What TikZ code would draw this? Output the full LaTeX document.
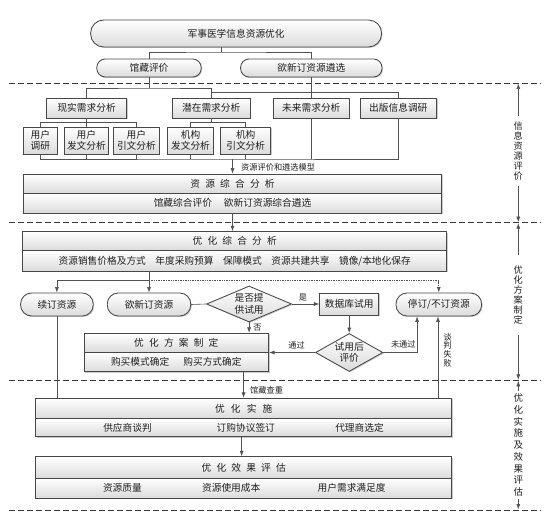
\documentclass[tikz,border=0pt]{standalone}
\usepackage{fontspec}
\setmainfont{Noto Sans CJK SC}
\usetikzlibrary{shapes.geometric,shadows,arrows.meta}
\newcommand\myfont{\fontsize{9.7}{11.5}\selectfont}
\newcommand\mysmall{\fontsize{8.2}{9}\selectfont}
\newcommand\myvert{\fontsize{9.2}{9.9}\selectfont}
\newcommand\myvertb{\fontsize{9.5}{11.7}\selectfont}
\newcommand\mytall{\fontsize{8.3}{8.6}\selectfont}
\newcommand\mygap{\hspace{5.2pt}}
\begin{document}
\begin{tikzpicture}[x=1pt,y=-1pt,
  base/.style={draw=black!72, line width=0.85pt, inner sep=0pt, top color=white,
    bottom color=black!14, text=black!88, font=\myfont, align=center,
    drop shadow={shadow xshift=1pt, shadow yshift=-1pt, opacity=0.4}},
  sqbox/.style={base},
  pill/.style={base, rounded corners=11pt},
  dia/.style={base, shape=diamond},
  conn/.style={draw=black!68, line width=0.6pt},
  arr/.style={conn, -{Latex[length=5.5pt,width=4pt]}},
  dbl/.style={conn, {Latex[length=5.5pt,width=4pt]}-{Latex[length=5.5pt,width=4pt]}},
  divide/.style={draw=black!78, line width=0.9pt, dash pattern=on 5.5pt off 3.5pt},
  lbl/.style={font=\mysmall, text=black!88, inner sep=0pt},
  itemtxt/.style={font=\myfont, text=black!88, inner sep=0pt},
  vl/.style={align=center, inner xsep=1pt, fill=white, text=black!88}
]
\fill[white] (0,0) rectangle (551,518);
\useasboundingbox (0,0) rectangle (551,518);

% separators
\coordinate (dl1) at (9,83);    \coordinate (dr1) at (541,83);
\coordinate (dl2) at (9,222.7); \coordinate (dr2) at (541,222.7);
\coordinate (dl3) at (9,380.3); \coordinate (dr3) at (541,380.3);
\coordinate (dl4) at (9,510);   \coordinate (dr4) at (541,510);
\draw[divide] (dl1) -- (dr1);
\draw[divide] (dl2) -- (dr2);
\draw[divide] (dl3) -- (dr3);
\draw[divide] (dl4) -- (dr4);

% nodes
\node[pill, rounded corners=13pt, minimum width=290.9pt, minimum height=27pt] (title) at (236.1,33.5) {军事医学信息资源优化};
\node[pill, rounded corners=8.5pt, minimum width=104.4pt, minimum height=18pt] (gc) at (149,68) {馆藏评价};
\node[pill, rounded corners=8.5pt, minimum width=141.4pt, minimum height=18pt] (xd) at (311.3,68) {欲新订资源遴选};

\node[sqbox, minimum width=80pt, minimum height=20pt] (xs) at (86.6,108) {现实需求分析};
\node[sqbox, minimum width=77.8pt, minimum height=20pt] (qz) at (211.2,108) {潜在需求分析};
\node[sqbox, minimum width=75.9pt, minimum height=20pt] (wl) at (311.3,108) {未来需求分析};
\node[sqbox, minimum width=76.7pt, minimum height=20pt] (cb) at (398.3,108) {出版信息调研};

\node[sqbox, minimum width=34.2pt, minimum height=27pt] (u1) at (40.3,140.5) {用户\\调研};
\node[sqbox, minimum width=44pt, minimum height=27pt] (u2) at (86.4,140.5) {用户\\发文分析};
\node[sqbox, minimum width=46pt, minimum height=27pt] (u3) at (136.4,140.5) {用户\\引文分析};
\node[sqbox, minimum width=45.6pt, minimum height=27pt] (j1) at (190.5,140.5) {机构\\发文分析};
\node[sqbox, minimum width=50pt, minimum height=27pt] (j2) at (245.7,140.5) {机构\\引文分析};

\node[sqbox, minimum width=418.3pt, minimum height=19.3pt] (zh1) at (232.5,183.7) {资\mygap 源\mygap 综\mygap 合\mygap 分\mygap 析};
\node[sqbox, minimum width=418.3pt, minimum height=20pt] (zh2) at (232.5,203.3) {馆藏综合评价\hspace{12pt}欲新订资源综合遴选};

\node[sqbox, minimum width=424pt, minimum height=19pt] (yz1) at (234.7,241.2) {优\mygap 化\mygap 综\mygap 合\mygap 分\mygap 析};
\node[sqbox, minimum width=424pt, minimum height=20.3pt] (yz2) at (234.7,260.85) {资源销售价格及方式\hspace{9.5pt}年度采购预算\hspace{9.5pt}保障模式\hspace{9.5pt}资源共建共享\hspace{9.5pt}镜像/本地化保存};

\node[pill, minimum width=72.6pt, minimum height=23pt] (xu) at (56.9,304.5) {续订资源};
\node[pill, minimum width=83.5pt, minimum height=23pt] (xdz) at (149,304.5) {欲新订资源};
\node[dia, aspect=2.36, minimum width=85pt, minimum height=36pt, font=\fontsize{9.7}{12}\selectfont] (sf) at (249.1,304) {是否提\\供试用};
\node[sqbox, minimum width=58.8pt, minimum height=22pt] (db) at (349.2,304) {数据库试用};
\node[pill, minimum width=85.6pt, minimum height=23pt] (stop) at (438.8,304.5) {停订/不订资源};

\node[sqbox, minimum width=184.6pt, minimum height=19pt] (fang1) at (176.3,342.8) {优\mygap 化\mygap 方\mygap 案\mygap 制\mygap 定};
\node[sqbox, minimum width=184.6pt, minimum height=19.4pt] (fang2) at (176.3,362) {购买模式确定\hspace{14.2pt}购买方式确定};
\node[dia, aspect=1.77, minimum width=67.4pt, minimum height=38pt, font=\fontsize{9.7}{11.6}\selectfont] (ev) at (349.2,352.5) {试用后\\评价};

\node[sqbox, minimum width=416pt, minimum height=20pt] (ss1) at (243.7,408.3) {优\hspace{6.2pt}化\hspace{6.2pt}实\hspace{6.2pt}施};
\node[sqbox, minimum width=416pt, minimum height=18.4pt] (ss2) at (243.7,427.5) {};
\node[itemtxt] (s21) at (127.5,427.5) {供应商谈判};
\node[itemtxt] (s22) at (245.8,427.5) {订购协议签订};
\node[itemtxt] (s23) at (359.5,427.5) {代理商选定};

\node[sqbox, minimum width=416pt, minimum height=21.6pt] (xg1) at (243.7,467.5) {优\mygap 化\mygap 效\mygap 果\mygap 评\mygap 估};
\node[sqbox, minimum width=416pt, minimum height=20pt] (xg2) at (243.7,488.3) {};
\node[itemtxt] (x21) at (122.4,488.3) {资源质量};
\node[itemtxt] (x22) at (231.2,488.3) {资源使用成本};
\node[itemtxt] (x23) at (351.6,488.3) {用户需求满足度};

% connectors top
\coordinate (b0) at (221.7,52);
\draw[conn] (b0 |- title.south) -- (b0);
\draw[conn] (gc.north) |- (b0) -| (xd.north);

\coordinate (b1) at (149,88);
\draw[conn] (gc.south) -- (b1);
\draw[conn] (xs.north) |- (b1) -| (qz.north);

\coordinate (b2) at (311.3,92.5);
\draw[conn] (xd.south) -- (wl.north);
\draw[conn] (qz.north) |- (b2) -| (cb.north);

\coordinate (b3) at (86.4,122.7);
\draw[conn] (xs.south -| b3) -- (b3);
\draw[conn] (u1.north) |- (b3) -| (u3.north);
\draw[conn] (u2.north) -- (u2.north |- b3);

\coordinate (b4) at (211.2,122.7);
\draw[conn] (qz.south) -- (b4);
\draw[conn] (j1.north) |- (b4) -| (j2.north);

\coordinate (b5) at (232.5,159);
\draw[conn] (u1.south) |- (b5) -| (cb.south);
\foreach \n in {u2,u3,j1,j2,wl} \draw[conn] (\n.south) -- (\n.south |- b5);
\draw[arr] (b5) -- (b5 |- zh1.north);
\node[lbl, anchor=west] (lb1) at (241,167.5) {资源评价和遴选模型};

\draw[arr] (zh2.south -| b5) -- (b5 |- yz1.north);

% middle section
\coordinate (b6) at (149,280.7);
\draw[conn] (yz2.south -| b6) -- (b6);
\draw[arr] (b6) -| (xu.north);
\draw[arr] (b6) -- (xdz.north);
\draw[arr, line width=0.9pt, dash pattern=on 1pt off 0.7pt] (b6) -| (stop.north);

\draw[conn] (xdz.east) -- (sf.west);
\draw[arr] (sf.east) -- (db.west) node[lbl, pos=0.4, above=2.5pt] (ys) {是};
\draw[arr] (sf.south) -- (sf.south |- fang1.north) node[lbl, midway, right=4pt] (no) {否};
\draw[arr] (db.south) -- (db.south |- ev.north);
\draw[arr] (ev.west) -- (ev.west -| fang1.east) node[lbl, pos=0.4, above=3pt] (tg) {通过};

\coordinate (nx) at (417.1,0);
\draw[arr] (ev.east) -| (nx |- stop.south);
\node[lbl] (wtg) at (403.3,344) {未通过};

\coordinate (tx) at (438,0);
\draw[arr] (tx |- ss1.north) -- (tx |- stop.south);
\node[lbl, font=\mytall, align=center] (tp) at (447.5,350) {谈\\判\\失\\败};

\draw[conn] (xu.south) -- (xu.south |- ss1.north);
\coordinate (gx) at (243.6,0);
\draw[arr] (gx |- fang2.south) -- (gx |- ss1.north);
\node[lbl, anchor=west] (cz) at (250,390) {馆藏查重};

\coordinate (sx) at (241.7,0);
\draw[arr] (sx |- ss2.south) -- (sx |- xg1.north);

% right side phases
\coordinate (r0) at (518.3,83.5);
\coordinate (r1) at (518.3,222.2);
\coordinate (r2) at (518.3,223.2);
\coordinate (r3) at (518.3,379.8);
\coordinate (r4) at (518.3,380.8);
\coordinate (r5) at (518.3,509.5);
\draw[dbl] (r0) -- (r1);
\draw[dbl] (r2) -- (r3);
\draw[dbl] (r4) -- (r5);
\node[vl, font=\myvert, inner ysep=5.5pt] (v1) at (518.3,151) {信\\息\\资\\源\\评\\价};
\node[vl, font=\myvert, inner ysep=11pt] (v2) at (518.3,295) {优\\化\\方\\案\\制\\定};
\node[vl, font=\myvertb, inner ysep=3pt] (v3) at (518.3,445) {优\\化\\实\\施\\及\\效\\果\\评\\估};
\end{tikzpicture}
\end{document}
